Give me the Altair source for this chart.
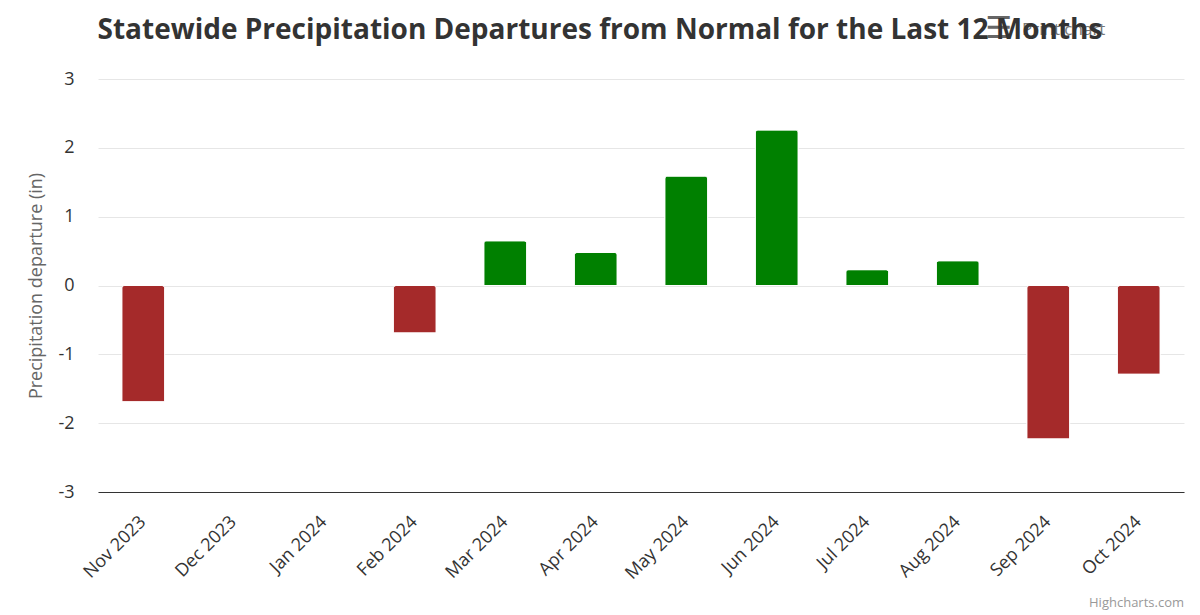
import altair as alt
import pandas as pd

# Monthly statewide precipitation departures (inches)
months = ["Nov 2023", "Dec 2023", "Jan 2024", "Feb 2024", "Mar 2024", "Apr 2024",
          "May 2024", "Jun 2024", "Jul 2024", "Aug 2024", "Sep 2024", "Oct 2024"]
departures = [-1.69, 0.0, 0.0, -0.69, 0.65, 0.48, 1.59, 2.26, 0.23, 0.36, -2.23, -1.29]

y_ticks = [-3, -2, -1, 0, 1, 2, 3]

title_text = "Statewide Precipitation Departures from Normal for the Last 12 Months"

df = pd.DataFrame({"month": months, "departure": departures})

FONT = "Open Sans"
PLOT_W, PLOT_H = 1086, 413

x_enc = alt.X(
    "month:N",
    sort=months,
    title=None,
    scale=alt.Scale(paddingInner=0.525, paddingOuter=0.2625),
    axis=alt.Axis(
        labelAngle=-45,
        labelAlign="right",
        labelBaseline="middle",
        labelFontSize=18,
        labelColor="#333333",
        labelFont=FONT,
        labelPadding=27,
        ticks=False,
        domainColor="#333333",
        domainWidth=1,
        grid=False,
    ),
)

y_enc = alt.Y(
    "departure:Q",
    title="Precipitation departure (in)",
    scale=alt.Scale(domain=[-3, 3], nice=False),
    axis=alt.Axis(
        values=y_ticks,
        labelExpr="toString(datum.value)",
        labelFontSize=18,
        labelColor="#333333",
        labelFont=FONT,
        labelPadding=24,
        ticks=False,
        domain=False,
        grid=True,
        gridColor="#e6e6e6",
        gridWidth=1,
        titleFont=FONT,
        titleFontSize=18,
        titleFontWeight="normal",
        titleColor="#666666",
        titlePadding=12,
    ),
)

bars = alt.Chart(df).mark_bar(
    cornerRadiusEnd=3, stroke="white", strokeWidth=1
).encode(
    x=x_enc,
    y=y_enc,
    color=alt.condition(
        alt.datum.departure >= 0, alt.value("#008000"), alt.value("#a52a2a")
    ),
)

# Export-menu button and its tooltip text, drawn beneath the title
menu_icon = alt.Chart(pd.DataFrame({"t": ["\u2630"]})).mark_text(
    font="DejaVu Sans", fontSize=30, fontWeight="bold", color="#666666",
    align="center", baseline="middle"
).encode(text="t:N", x=alt.value(901), y=alt.value(-50))

menu_text = alt.Chart(pd.DataFrame({"t": ["Print chart"]})).mark_text(
    font=FONT, fontSize=17, color="#555555", align="left", baseline="alphabetic", opacity=0.8
).encode(text="t:N", x=alt.value(924), y=alt.value(-44))

title = alt.Chart(pd.DataFrame({"t": [title_text]})).mark_text(
    font=FONT, fontSize=28, fontWeight="bold", color="#333333",
    align="center", baseline="alphabetic"
).encode(text="t:N", x=alt.value(502), y=alt.value(-40))

credits = alt.Chart(pd.DataFrame({"t": ["Highcharts.com"]})).mark_text(
    font=FONT, fontSize=13, color="#999999", align="right", baseline="middle"
).encode(text="t:N", x=alt.value(PLOT_W), y=alt.value(524))

chart = alt.layer(bars, menu_icon, menu_text, title, credits).properties(
    width=PLOT_W,
    height=PLOT_H,
    background="white",
    autosize=alt.AutoSizeParams(type="none"),
    padding={"left": 98, "top": 79, "right": 16, "bottom": 123},
).configure_view(stroke=None)

chart.save("out.html", embed_options={"renderer": "svg", "actions": False})
